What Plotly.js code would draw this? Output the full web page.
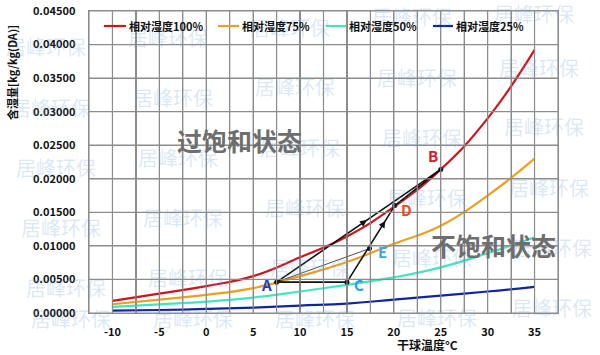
<!DOCTYPE html>
<html>
<head>
<meta charset="utf-8">
<script src="https://cdn.plot.ly/plotly-3.0.1.min.js"></script>
<style>html,body{margin:0;padding:0;background:#fff;}#chart{width:600px;height:355px;}</style>
</head>
<body>
<div id="chart"></div>
<script>
// ---- data ----
const temps = [-10, -5, 0, 5, 10, 15, 20, 25, 30, 35];
const rh100 = [0.0018, 0.0029, 0.0040, 0.0055, 0.0083, 0.0114, 0.0158, 0.0214, 0.0290, 0.0392];
const rh75  = [0.0013, 0.0020, 0.0027, 0.0037, 0.0055, 0.0076, 0.0103, 0.0130, 0.0175, 0.0230];
const rh50  = [0.0009, 0.0013, 0.0017, 0.0023, 0.0032, 0.0042, 0.0053, 0.0068, 0.0089, 0.0113];
const rh25  = [0.00035, 0.00045, 0.0006, 0.0008, 0.0011, 0.0014, 0.0020, 0.0026, 0.0032, 0.0039];
const seriesNames = ['相对湿度100%', '相对湿度75%', '相对湿度50%', '相对湿度25%'];
const xTicks = [-10, -5, 0, 5, 10, 15, 20, 25, 30, 35];
const yTicks = [0, 0.005, 0.01, 0.015, 0.02, 0.025, 0.03, 0.035, 0.04, 0.045];
const pointNames = ['A', 'B', 'C', 'D', 'E'];
const pointX = [7.5, 25.0, 15.0, 20.1, 17.4];
const pointY = [0.0046, 0.0214, 0.0046, 0.0160, 0.0096];
const regionLabels = ['过饱和状态', '不饱和状态'];
const regionX = [3.5, 30.6];
const regionY = [0.0258, 0.0101];

(function () {
  var procPaths = [['A', 'B'], ['A', 'C'], ['C', 'D'], ['D', 'B']];
  var thinProc = [['A', 'E']];
  var procArrows = [['A', 'B', 0.55], ['A', 'C', 0.42], ['C', 'D', 0.80]];
  var lineColors = ['#d0141c', '#eda020', '#3ee6c4', '#10269e'];
  var labelColors = {A: '#1c3cc8', B: '#d0202a', C: '#2a9de2', D: '#e4501c', E: '#3aa6e6'};
  var labelShift = {A: [-10, -2], B: [-8, 14], C: [12, -2], D: [12, -4], E: [13, -3]};
  var legendLinePx = [[104, 126], [218, 239], [326, 346], [433, 453]];
  var fontFam = '"Noto Sans CJK SC", "Noto Sans", sans-serif';
  var gridCol = '#8c8c8c';
  var mg = {l: 89, r: 42, t: 11, b: 42};
  var figW = 600, figH = 355;
  var xRange = [-12.5, 37.5], yRange = [0, 0.045];
  function pxX(v) { return (v - mg.l) / (figW - mg.l - mg.r); }
  function pxY(v) { return 1 - (v - mg.t) / (figH - mg.t - mg.b); }
  function ix(n) { return pointNames.indexOf(n); }

  var xStep = xTicks[1] - xTicks[0];
  var xGridVals = [xTicks[0] - xStep / 2];
  xTicks.forEach(function (v) { xGridVals.push(v); xGridVals.push(v + xStep / 2); });
  var xGridText = xGridVals.map(function (v) { return xTicks.indexOf(v) >= 0 ? String(v) : ''; });

  var data = [];
  [rh100, rh75, rh50, rh25].forEach(function (ys, i) {
    data.push({x: temps, y: ys, type: 'scatter', mode: 'lines', name: seriesNames[i], showlegend: false,
      line: {color: lineColors[i], width: 2.2, shape: 'spline', smoothing: 1.3}, hoverinfo: 'skip'});
  });
  procPaths.forEach(function (p) {
    data.push({x: [pointX[ix(p[0])], pointX[ix(p[1])]], y: [pointY[ix(p[0])], pointY[ix(p[1])]],
      type: 'scatter', mode: 'lines', showlegend: false, line: {color: '#111', width: 1.6}, hoverinfo: 'skip'});
  });
  thinProc.forEach(function (p) {
    data.push({x: [pointX[ix(p[0])], pointX[ix(p[1])]], y: [pointY[ix(p[0])], pointY[ix(p[1])]],
      type: 'scatter', mode: 'lines', showlegend: false, line: {color: '#222', width: 0.8}, hoverinfo: 'skip'});
  });
  data.push({x: pointX, y: pointY, type: 'scatter', mode: 'markers', showlegend: false,
    marker: {color: '#111', size: 5}, hoverinfo: 'skip'});

  var shp = [];
  // grid lines as shapes on the top layer
  xGridVals.forEach(function (v) {
    shp.push({type: 'line', xref: 'x', yref: 'paper', x0: v, x1: v, y0: 0, y1: 1, layer: 'above',
      line: {color: gridCol, width: 1.2}});
  });
  yTicks.forEach(function (v) {
    shp.push({type: 'line', xref: 'paper', yref: 'y', x0: 0, x1: 1, y0: v, y1: v, layer: 'above',
      line: {color: gridCol, width: 1.2}});
  });
  legendLinePx.forEach(function (p, i) {
    shp.push({type: 'line', xref: 'paper', yref: 'paper', x0: pxX(p[0]), x1: pxX(p[1]),
      y0: pxY(26), y1: pxY(26), layer: 'above', line: {color: lineColors[i], width: 2.2}});
  });

  var ann = [];
  for (var r = 0; r < 6; r++) {
    for (var c = 0; c < 5; c++) {
      var wx = Math.min(Math.max(46 + c * 122 + r * 5, 46), 552);
      var wy = Math.min(Math.max(47 + r * 60 - c * 10, 13), 318);
      ann.push({x: pxX(wx), y: pxY(wy), xref: 'paper', yref: 'paper', xanchor: 'center', yanchor: 'middle',
        text: '居峰环保', showarrow: false, font: {family: fontFam, size: 20, color: 'rgba(110,160,215,0.25)'}});
    }
  }
  seriesNames.forEach(function (n, i) {
    ann.push({x: pxX(legendLinePx[i][1] + 1), y: pxY(26), xref: 'paper', yref: 'paper',
      xanchor: 'left', yanchor: 'middle', text: '<b>' + n + '</b>', showarrow: false,
      font: {family: fontFam, size: 11, color: '#111'}});
  });
  pointNames.forEach(function (n, i) {
    ann.push({x: pointX[i], y: pointY[i], xref: 'x', yref: 'y', text: '<b>' + n + '</b>', showarrow: false,
      xanchor: 'center', yanchor: 'middle', xshift: labelShift[n][0], yshift: labelShift[n][1],
      font: {family: fontFam, size: 15, color: labelColors[n]}});
  });
  procArrows.forEach(function (a) {
    var x0 = pointX[ix(a[0])], y0 = pointY[ix(a[0])], x1 = pointX[ix(a[1])], y1 = pointY[ix(a[1])];
    var t = a[2], t0 = t - 0.04;
    ann.push({x: x0 + (x1 - x0) * t, y: y0 + (y1 - y0) * t, ax: x0 + (x1 - x0) * t0, ay: y0 + (y1 - y0) * t0,
      xref: 'x', yref: 'y', axref: 'x', ayref: 'y', text: '', showarrow: true,
      arrowhead: 2, arrowsize: 0.9, arrowwidth: 1.5, arrowcolor: '#111'});
  });
  regionLabels.forEach(function (t, i) {
    ann.push({x: regionX[i], y: regionY[i], xref: 'x', yref: 'y', text: '<b>' + t + '</b>', showarrow: false,
      xanchor: 'center', yanchor: 'middle', font: {family: fontFam, size: 25, color: '#6e6e6e'}});
  });
  ann.push({x: pxX(12), y: pxY(73), xref: 'paper', yref: 'paper', xanchor: 'center', yanchor: 'middle',
    text: '<b>含湿量[kg/kg(DA)]</b>', showarrow: false, textangle: -90,
    font: {family: fontFam, size: 11, color: '#111'}});
  ann.push({x: pxX(427), y: pxY(344), xref: 'paper', yref: 'paper', xanchor: 'center', yanchor: 'middle',
    text: '<b>干球温度°C</b>', showarrow: false, font: {family: fontFam, size: 12, color: '#111'}});

  var lay = {
    width: figW, height: figH, margin: mg,
    paper_bgcolor: '#fff', plot_bgcolor: '#fff',
    font: {family: fontFam, color: '#111'}, showlegend: false,
    xaxis: {range: xRange, tickmode: 'array', tickvals: xGridVals, ticktext: xGridText,
      showgrid: true, gridcolor: gridCol, gridwidth: 1.2, zeroline: false,
      showline: true, linecolor: gridCol, linewidth: 1.4, mirror: true, ticks: '', ticklabelstandoff: 8,
      tickfont: {family: fontFam, size: 11, color: '#111', weight: 'bold'}},
    yaxis: {range: yRange, tickmode: 'array', tickvals: yTicks, tickformat: '.5f',
      showgrid: true, gridcolor: gridCol, gridwidth: 1.2, zeroline: false,
      showline: true, linecolor: gridCol, linewidth: 1.4, mirror: true, ticks: '', ticklabelstandoff: 10,
      tickfont: {family: fontFam, size: 11, color: '#111', weight: 'bold'}},
    shapes: shp, annotations: ann
  };
  Plotly.newPlot('chart', data, lay, {displayModeBar: false, staticPlot: true});
})();
</script>
</body>
</html>
